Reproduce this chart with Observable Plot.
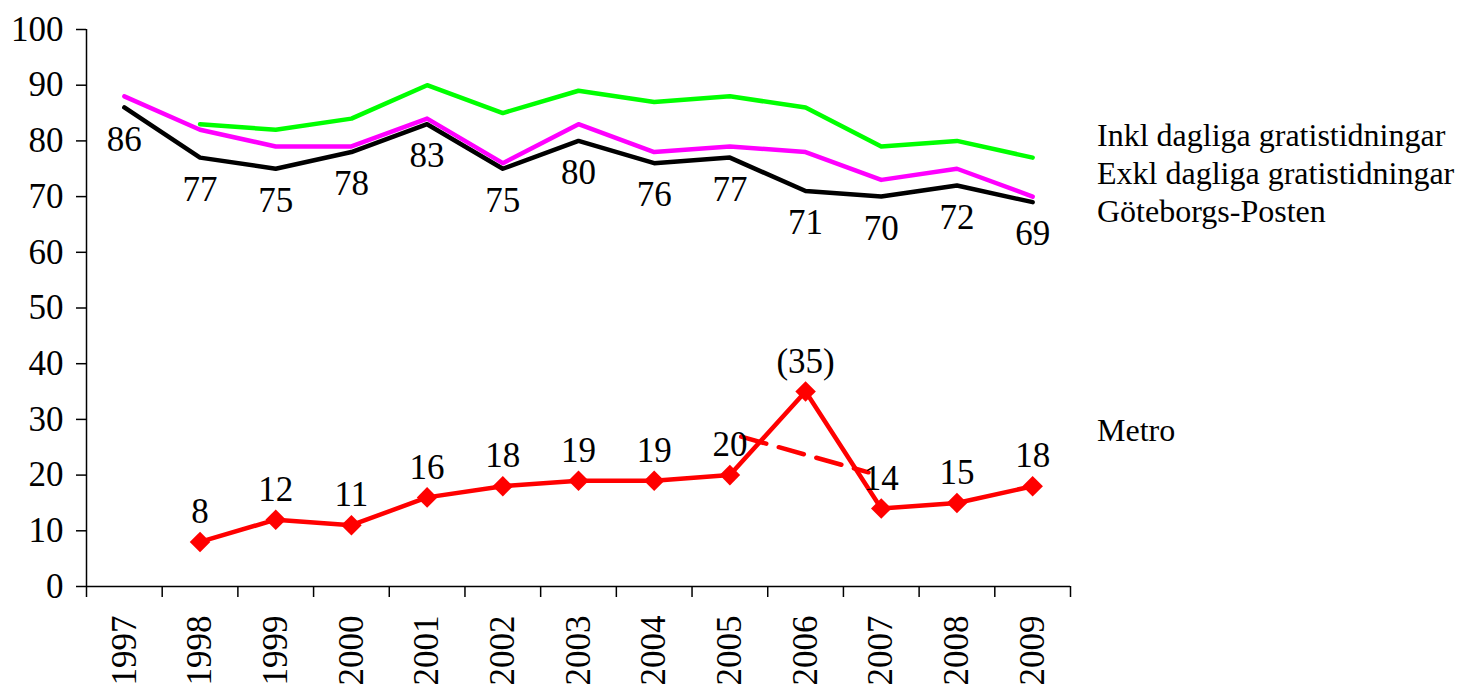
<!DOCTYPE html>
<html>
<head>
<meta charset="utf-8">
<script src="https://cdn.jsdelivr.net/npm/d3@7"></script>
<script src="https://cdn.jsdelivr.net/npm/@observablehq/plot@0.6"></script>
<style>
  html, body { margin: 0; padding: 0; background: #fff; }
  #wrap { position: relative; width: 1459px; height: 690px; overflow: hidden; }
  #wrap svg, #wrap svg text { font-family: 'Liberation Serif', 'Times New Roman', serif !important; }
  .lg { position: absolute; left: 1097px; font-family: 'Liberation Serif', 'Times New Roman', serif; font-size: 32px; color: #000; white-space: nowrap; line-height: 1; }
</style>
</head>
<body>
<div id="wrap"></div>
<script>
const years = [1997, 1998, 1999, 2000, 2001, 2002, 2003, 2004, 2005, 2006, 2007, 2008, 2009];
const inkl  = [null, 83, 82, 84, 90, 85, 89, 87, 88, 86, 79, 80, 77];
const exkl  = [88, 82, 79, 79, 84, 76, 83, 78, 79, 78, 73, 75, 70];
const gp    = [86, 77, 75, 78, 83, 75, 80, 76, 77, 71, 70, 72, 69];
const metro = [null, 8, 12, 11, 16, 18, 19, 19, 20, 35, 14, 15, 18];
const metroLabels = ["", "8", "12", "11", "16", "18", "19", "19", "20", "(35)", "14", "15", "18"];
const trendX = [2005.15, 2006.83];
const trendY = [26.9, 20.5];
const yTicks = [0, 10, 20, 30, 40, 50, 60, 70, 80, 90, 100];
const seriesNames = ["Inkl dagliga gratistidningar", "Exkl dagliga gratistidningar", "Göteborgs-Posten", "Metro"];

const rows = (vals) => years.map((y, i) => ({year: y, v: vals[i], label: metroLabels[i]})).filter(d => d.v != null);
const inklD = rows(inkl), exklD = rows(exkl), gpD = rows(gp), metroD = rows(metro);
const trendD = trendX.map((x, i) => ({x, y: trendY[i]}));
const bounds = [years[0] - 0.5, ...years.map(y => y + 0.5)];
const serif = "'Liberation Serif', 'Times New Roman', serif";

const chart = Plot.plot({
  width: 1459,
  height: 690,
  marginLeft: 86,
  marginRight: 389,
  marginTop: 29,
  marginBottom: 104,
  style: {fontFamily: serif, fontSize: "35px", color: "#000", background: "#fff"},
  x: {domain: [years[0] - 0.5, years[years.length - 1] + 0.5]},
  y: {domain: [0, 100]},
  marks: [
    Plot.axisY({ticks: yTicks, tickSize: 10, tickPadding: 13, label: null, tickFormat: d => String(d), strokeWidth: 1.5, fontSize: 35, fontFamily: serif}),
    Plot.ruleX([bounds[0]], {y1: 0, y2: 100, strokeWidth: 1.5}),
    Plot.ruleY([0], {strokeWidth: 1.5}),
    Plot.axisX({ticks: bounds, tickSize: 11, tickFormat: () => "", label: null, strokeWidth: 1.5}),
    Plot.axisX({ticks: years, tickSize: 0, tickRotate: -90, tickPadding: 29, tickFormat: d => String(d), label: null, fontSize: 35, fontFamily: serif}),
    Plot.line(gpD, {x: "year", y: "v", stroke: "#000000", strokeWidth: 4.5}),
    Plot.line(exklD, {x: "year", y: "v", stroke: "#ff00ff", strokeWidth: 4.5}),
    Plot.line(inklD, {x: "year", y: "v", stroke: "#00ff00", strokeWidth: 4.5}),
    Plot.line(trendD, {x: "x", y: "y", stroke: "#ff0000", strokeWidth: 4.5, strokeDasharray: "26,13"}),
    Plot.line(metroD, {x: "year", y: "v", stroke: "#ff0000", strokeWidth: 4.5}),
    Plot.dot(metroD, {x: "year", y: "v", symbol: "square", r: 8.2, rotate: 45, fill: "#ff0000", stroke: "none"}),
    Plot.text(gpD, {x: "year", y: "v", text: d => String(d.v), dy: 32, fontSize: 35, fontFamily: serif, fill: "#000"}),
    Plot.text(metroD, {x: "year", y: "v", text: "label", dy: -30, fontSize: 35, fontFamily: serif, fill: "#000"})
  ]
});
document.getElementById("wrap").appendChild(chart);

const legendTops = [119, 157, 195, 414];
seriesNames.forEach((n, i) => {
  const d = document.createElement("div");
  d.className = "lg";
  d.style.top = legendTops[i] + "px";
  d.textContent = n;
  document.getElementById("wrap").appendChild(d);
});
</script>
</body>
</html>
